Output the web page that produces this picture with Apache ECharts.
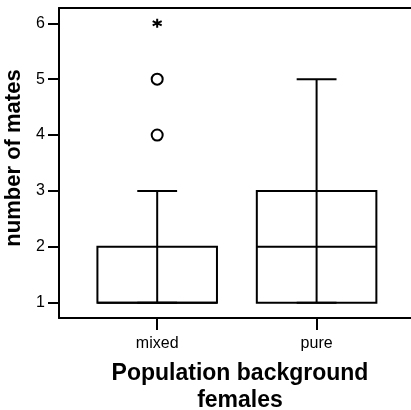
<!DOCTYPE html>
<html>
<head>
<meta charset="utf-8">
<script src="https://cdn.jsdelivr.net/npm/echarts@6/dist/echarts.min.js"></script>
<style>
  html, body { margin: 0; padding: 0; background: #fff; }
  #main { width: 411px; height: 410px; }
</style>
</head>
<body>
<div id="main"></div>
<script>
// categories and box statistics: [min, Q1, median, Q3, max]
var categories = ['mixed', 'pure'];
var boxStats = [
  [1, 1, 1, 2, 3],
  [1, 1, 2, 3, 5]
];
// outliers (circles) and extremes (star): [category index, value]
var outliers = [[0, 4], [0, 5]];
var extremes = [[0, 6]];
var yTicks = [1, 2, 3, 4, 5, 6];

var font = 'Liberation Sans, Arial, sans-serif';

// x is a value axis: category i sits at i + 1
var boxData = boxStats.map(function (d, i) { return [i + 1].concat(d); });
var outlierData = outliers.map(function (d) { return [d[0] + 1, d[1]]; });
var extremeData = extremes.map(function (d) { return [d[0] + 1, d[1]]; });

function renderBox(params, api) {
  var x = api.value(0);
  var pMin = api.coord([x, api.value(1)]);
  var pQ1 = api.coord([x, api.value(2)]);
  var pMed = api.coord([x, api.value(3)]);
  var pQ3 = api.coord([x, api.value(4)]);
  var pMax = api.coord([x, api.value(5)]);
  var half = api.size([1, 0])[0] * 0.375;
  var cap = half / 3;
  var st = { stroke: '#000', lineWidth: 2, fill: null };
  function hline(p, w) {
    return { type: 'line', shape: { x1: p[0] - w, y1: p[1], x2: p[0] + w, y2: p[1] }, style: st };
  }
  return {
    type: 'group',
    children: [
      { type: 'line', shape: { x1: pMin[0], y1: pMin[1], x2: pMax[0], y2: pMax[1] }, style: st },
      hline(pMin, cap),
      hline(pMax, cap),
      {
        type: 'rect',
        shape: { x: pQ3[0] - half, y: pQ3[1], width: half * 2, height: pQ1[1] - pQ3[1] },
        style: { stroke: '#000', lineWidth: 2, fill: 'none' }
      },
      hline(pMed, half)
    ]
  };
}

var axisLine = { show: true, lineStyle: { color: '#000', width: 2 } };

var myChart = echarts.init(document.getElementById('main'));
myChart.setOption({
  animation: false,
  grid: {
    left: 59,
    right: -10,
    top: 8,
    bottom: 92,
    outerBoundsMode: 'none'
  },
  xAxis: [
    {
      type: 'value',
      min: 0.384,
      max: 2.655,
      axisLine: axisLine,
      splitLine: { show: false },
      axisTick: {
        show: true,
        customValues: [1, 2],
        length: 12,
        lineStyle: { color: '#000', width: 2 }
      },
      axisLabel: {
        customValues: [1, 2],
        formatter: function (v) { return categories[Math.round(v) - 1]; },
        margin: 18,
        color: '#000',
        fontSize: 16,
        fontFamily: font
      },
      name: 'Population background\nfemales',
      nameLocation: 'middle',
      nameGap: 42,
      nameTextStyle: {
        color: '#000',
        fontSize: 23,
        fontWeight: 'bold',
        fontFamily: font,
        lineHeight: 27
      }
    },
    {
      // top frame line only
      type: 'value',
      position: 'top',
      min: 0.384,
      max: 2.655,
      axisLine: axisLine,
      axisTick: { show: false },
      axisLabel: { show: false },
      splitLine: { show: false }
    }
  ],
  yAxis: {
    type: 'value',
    min: 0.727,
    max: 6.273,
    axisLine: axisLine,
    splitLine: { show: false },
    axisTick: {
      show: true,
      customValues: yTicks,
      length: 11,
      lineStyle: { color: '#000', width: 2 }
    },
    axisLabel: {
      customValues: yTicks,
      margin: 14,
      color: '#000',
      fontSize: 16,
      fontFamily: font
    },
    name: 'number of mates',
    nameLocation: 'middle',
    nameGap: 29,
    nameTextStyle: {
      color: '#000',
      fontSize: 22,
      fontWeight: 'bold',
      fontFamily: font,
      padding: [0, 0, 0, 10]
    }
  },
  series: [
    {
      type: 'custom',
      renderItem: renderBox,
      data: boxData
    },
    {
      type: 'scatter',
      data: outlierData,
      symbol: 'circle',
      symbolSize: 11,
      itemStyle: { color: '#fff', borderColor: '#000', borderWidth: 2, opacity: 1 }
    },
    {
      type: 'scatter',
      data: extremeData,
      symbol: 'path://M5,0L5,10M0.6,2.6L9.4,7.4M0.6,7.4L9.4,2.6',
      symbolSize: 9,
      itemStyle: { color: '#000', borderColor: '#000', borderWidth: 2, opacity: 1 }
    }
  ]
});
</script>
</body>
</html>
